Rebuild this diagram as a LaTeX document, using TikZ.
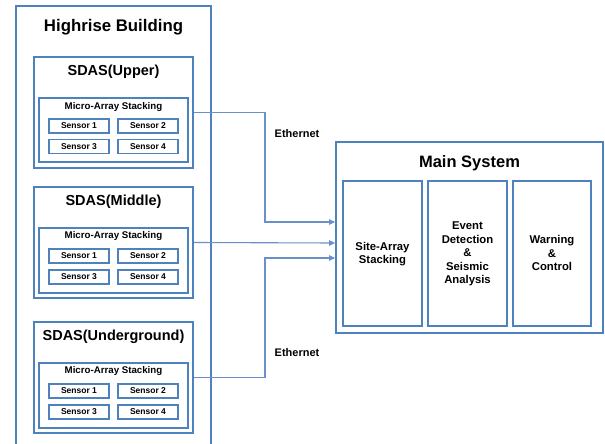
\documentclass[tikz,border=0pt]{standalone}
\usepackage{fontspec}
\setmainfont{Liberation Sans}
\usetikzlibrary{arrows.meta}
\definecolor{boxblue}{RGB}{79,129,189}
\definecolor{lineblue}{RGB}{105,145,200}
\tikzset{
  bbox/.style={draw=boxblue,line width=1.8pt,fill=none,inner sep=0pt},
  sbox/.style={draw=boxblue,line width=1.6pt,inner sep=0pt,minimum width=60pt,minimum height=14pt,font=\fontsize{8.5}{10}\selectfont\bfseries},
  ttl/.style={font=\fontsize{16.8}{19}\selectfont\bfseries,inner sep=0pt},
  sdttl/.style={font=\fontsize{14.5}{17}\selectfont\bfseries,inner sep=0pt},
  mattl/.style={font=\fontsize{9.7}{11}\selectfont\bfseries,inner sep=0pt},
  inner/.style={font=\fontsize{11.3}{13.6}\selectfont\bfseries,align=center,inner sep=0pt},
  lbl/.style={font=\fontsize{11}{13}\selectfont\bfseries,inner sep=0pt},
  conn/.style={draw=lineblue,line width=1.1pt,-{Triangle[length=6pt,width=5.5pt]}}
}
\begin{document}
\begin{tikzpicture}[x=1pt,y=-1pt]
\useasboundingbox (0,0) rectangle (605,444);
\fill[white] (0,0) rectangle (605,444);
\begin{scope}
\clip (0,0) rectangle (605,444);
% building
\node[bbox,minimum width=195pt,minimum height=460pt] (bld) at (113.5,236) {};
\end{scope}
\node[ttl] (bldt) at (113.5,27) {Highrise Building};

% SDAS boxes
\foreach \nm/\t/\cy/\my/\ty/\mt/\ra/\rb in {U/SDAS(Upper)/112.5/130/72/107/126/146.5,
  M/SDAS(Middle)/242.5/260.5/202/236/256/277,
  G/SDAS(Underground)/377.5/395.5/337/371/391/412}{
  \node[bbox,minimum width=159pt,minimum height=111pt] (sdas\nm) at (113.5,\cy) {};
  \node[sdttl] (sdast\nm) at (113.5,\ty) {\t};
  \node[bbox,line width=1.6pt,minimum width=149pt,minimum height=64.5pt] (mas\nm) at (113.5,\my) {};
  \node[mattl] (mast\nm) at (113.5,\mt) {Micro-Array Stacking};
  \node[sbox] (s1\nm) at (79,\ra) {Sensor 1};
  \node[sbox] (s2\nm) at (148,\ra) {Sensor 2};
  \node[sbox] (s3\nm) at (79,\rb) {Sensor 3};
  \node[sbox] (s4\nm) at (148,\rb) {Sensor 4};
}

% main system
\node[bbox,minimum width=267pt,minimum height=191pt] (main) at (469.5,237.5) {};
\node[ttl,font=\fontsize{16.5}{19}\selectfont\bfseries] (maint) at (469.5,163) {Main System};
\node[bbox,minimum width=79pt,minimum height=145pt] (sas) at (382.5,253.5) {};
\node[inner] (sast) at (382.5,254) {Site-Array\\Stacking};
\node[bbox,minimum width=79pt,minimum height=145pt] (eds) at (467.5,253.5) {};
\node[inner] (edst) at (467.5,254) {Event\\Detection\\\&\\Seismic\\Analysis};
\node[bbox,minimum width=78pt,minimum height=145pt] (wac) at (552,253.5) {};
\node[inner] (wact) at (552,253) {Warning\\\&\\Control};

% connectors
\coordinate (inU) at (main.west |- 0,222);
\coordinate (inM) at (main.west |- 0,243);
\coordinate (inG) at (main.west |- 0,258);
\coordinate (bU) at (265,112.5);
\coordinate (bG) at (265,377.5);
\draw[conn] (sdasU.east) -- (bU) |- (inU);
\draw[conn] (sdasM.east) -- (inM);
\draw[conn] (sdasG.east) -- (bG) |- (inG);

\node[lbl] (eth1) at (297,134) {Ethernet};
\node[lbl] (eth2) at (297,353) {Ethernet};
\end{tikzpicture}
\end{document}
